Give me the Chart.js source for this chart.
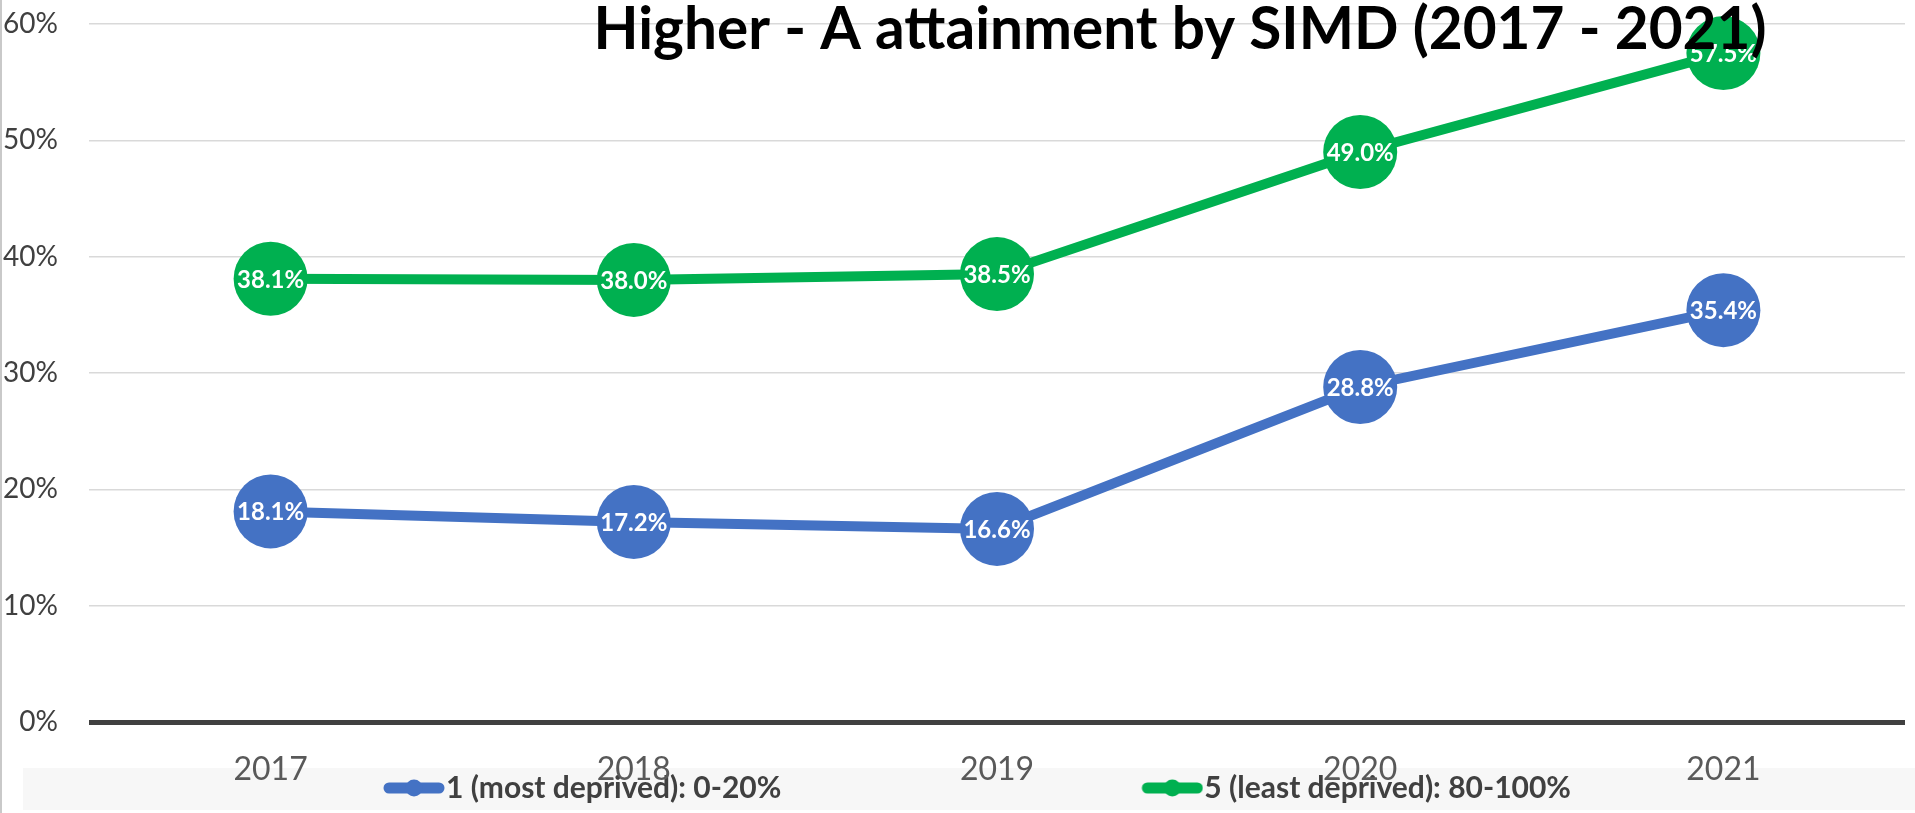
<!DOCTYPE html>
<html>
<head>
<meta charset="utf-8">
<title>Higher - A attainment by SIMD (2017 - 2021)</title>
<script src="https://cdn.jsdelivr.net/npm/chart.js@4.4.0/dist/chart.umd.min.js"></script>
<style>
  html, body { margin: 0; padding: 0; background: #fff; }
  #wrap { position: relative; width: 1915px; height: 813px; overflow: hidden; }
  #edge { position: absolute; left: 0; top: 0; width: 2px; height: 813px; background: #c9c9c9; }
</style>
</head>
<body>
<div id="wrap">
  <canvas id="simdChart" width="1915" height="813"></canvas>
  <div id="edge"></div>
</div>
<script>
const years = ['2017', '2018', '2019', '2020', '2021'];
const mostDeprived = [18.1, 17.2, 16.6, 28.8, 35.4];
const leastDeprived = [38.1, 38.0, 38.5, 49.0, 57.5];
const seriesNames = ['1 (most deprived): 0-20%', '5 (least deprived): 80-100%'];
const yTicks = [0, 10, 20, 30, 40, 50, 60];
const titleText = 'Higher - A attainment by SIMD (2017 - 2021)';

const blue = '#4472C4';
const green = '#00B050';
const FONT = 'Lato, "Open Sans", sans-serif';
const LEGEND_SIZE = 30;

// legend marker: thick line with a dot, drawn at the right end of a wide image
// so the blank part gives the big gap between the two entries
const SYM_BOX = 403;
const SYM_IMG = SYM_BOX + LEGEND_SIZE - 2;
function legendSymbol(color) {
    const c = document.createElement('canvas');
    c.width = SYM_IMG;
    c.height = 24;
    const g = c.getContext('2d');
    g.strokeStyle = color;
    g.fillStyle = color;
    g.lineWidth = 11;
    g.lineCap = 'round';
    g.beginPath();
    g.moveTo(SYM_IMG - 56, 12);
    g.lineTo(SYM_IMG - 6, 12);
    g.stroke();
    g.beginPath();
    g.arc(SYM_IMG - 31, 12, 8.5, 0, Math.PI * 2);
    g.fill();
    return c;
}
const symbols = [legendSymbol(blue), legendSymbol(green)];

// tick labels may spill out of their axis box here, so no clipping
function noLabelClip(scale) {
    scale._computeLabelArea = function() { return undefined; };
}

const legendBand = {
    id: 'legendBand',
    beforeDraw(chart) {
        const lg = chart.legend;
        const ctx = chart.ctx;
        ctx.save();
        ctx.fillStyle = '#f7f7f7';
        ctx.fillRect(lg.left, lg.top, chart.width - lg.left, lg.height - 3);
        ctx.restore();
    }
};

const pointLabels = {
    id: 'pointLabels',
    afterDatasetsDraw(chart) {
        const ctx = chart.ctx;
        ctx.save();
        ctx.font = 'bold 24px ' + FONT;
        ctx.fillStyle = '#ffffff';
        ctx.textAlign = 'center';
        ctx.textBaseline = 'middle';
        chart.data.datasets.forEach((ds, i) => {
            chart.getDatasetMeta(i).data.forEach((pt, j) => {
                ctx.fillText(ds.data[j].toFixed(1) + '%', pt.x, pt.y + 1);
            });
        });
        ctx.restore();
    }
};

// title sits over the plot, like the original
const overTitle = {
    id: 'overTitle',
    afterDraw(chart) {
        const ctx = chart.ctx;
        ctx.save();
        ctx.font = 'bold 58.5px ' + FONT;
        ctx.fillStyle = '#000000';
        ctx.textAlign = 'center';
        ctx.textBaseline = 'alphabetic';
        ctx.fillText(titleText, 1180, 49);
        ctx.restore();
    }
};

const ctx1 = document.getElementById('simdChart').getContext('2d');

const simdChart = new Chart(ctx1, {
    type: 'line',
    data: {
        labels: years,
        datasets: [{
            label: seriesNames[0],
            data: mostDeprived,
            borderColor: blue,
            backgroundColor: blue,
            pointBackgroundColor: blue,
            borderWidth: 10,
            pointRadius: 37,
            pointHoverRadius: 37,
            pointBorderWidth: 0,
            tension: 0,
            clip: false
        }, {
            label: seriesNames[1],
            data: leastDeprived,
            borderColor: green,
            backgroundColor: green,
            pointBackgroundColor: green,
            borderWidth: 10,
            pointRadius: 37,
            pointHoverRadius: 37,
            pointBorderWidth: 0,
            tension: 0,
            clip: false
        }]
    },
    options: {
        responsive: false,
        animation: false,
        events: [],
        layout: {
            autoPadding: false,
            padding: { left: 23, right: 10, top: 24, bottom: 0 }
        },
        plugins: {
            title: { display: false },
            tooltip: { enabled: false },
            legend: {
                position: 'bottom',
                align: 'start',
                labels: {
                    usePointStyle: true,
                    pointStyleWidth: SYM_BOX,
                    padding: 5,
                    color: '#404040',
                    font: { family: FONT, size: LEGEND_SIZE, weight: 'bold' },
                    generateLabels: function(chart) {
                        const items = Chart.defaults.plugins.legend.labels.generateLabels(chart);
                        items.forEach((it, i) => { it.pointStyle = symbols[i]; });
                        return items;
                    }
                }
            }
        },
        scales: {
            x: {
                offset: true,
                grid: { display: false, drawTicks: false },
                border: { display: false },
                ticks: {
                    color: '#595959',
                    font: { family: FONT, size: 32 },
                    padding: 28
                },
                afterFit: function(scale) {
                    scale.height = 46;
                    noLabelClip(scale);
                }
            },
            y: {
                min: Math.min(...yTicks),
                max: Math.max(...yTicks),
                border: { display: false },
                grid: {
                    drawTicks: false,
                    color: (c) => c.tick.value === 0 ? '#404040' : '#d9d9d9',
                    lineWidth: (c) => c.tick.value === 0 ? 5 : 1.5
                },
                ticks: {
                    stepSize: yTicks[1] - yTicks[0],
                    callback: (v) => v + '%',
                    color: '#404040',
                    font: { family: FONT, size: 28 },
                    padding: 31
                },
                afterFit: function(scale) {
                    scale.width = 66;
                    // the big tick padding should not push the plot down
                    scale.paddingTop = 0;
                    scale.paddingBottom = 0;
                    noLabelClip(scale);
                }
            }
        }
    },
    plugins: [legendBand, pointLabels, overTitle]
});
</script>
</body>
</html>
